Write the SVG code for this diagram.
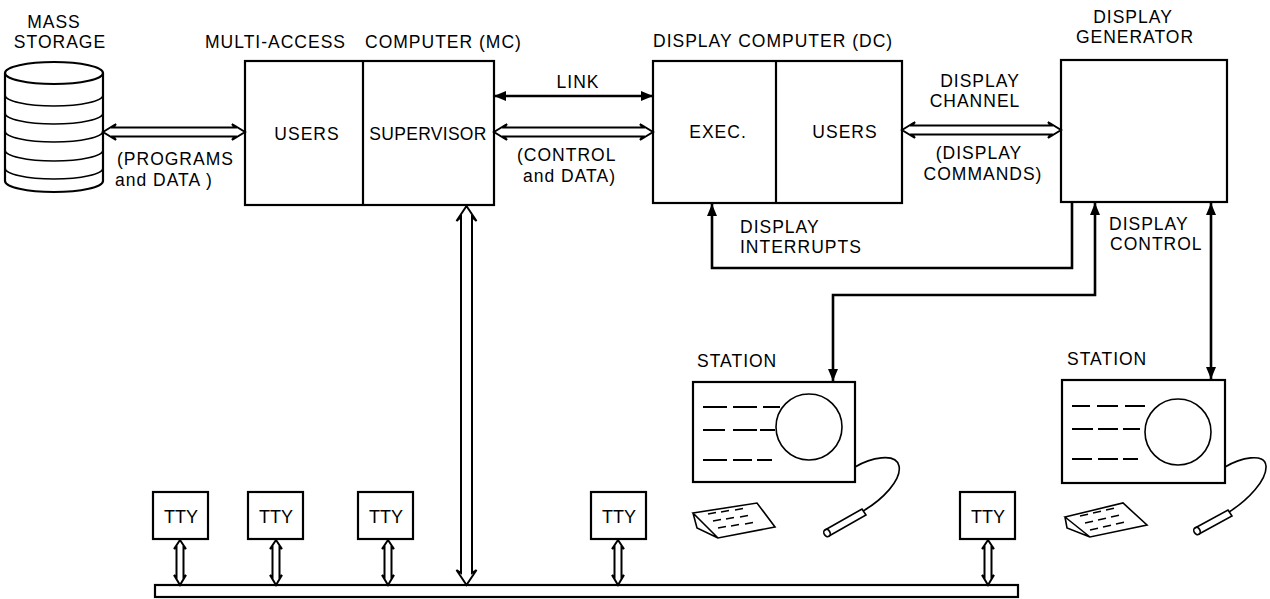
<svg xmlns="http://www.w3.org/2000/svg" width="1270" height="599" viewBox="0 0 1270 599">
  <style>
    text { font-family: "Liberation Sans", Arial, sans-serif; font-size: 17.5px; letter-spacing: 1px; fill: #000; }
    .mid { text-anchor: middle; }
    .tight { letter-spacing: 0.3px; }
    .tty { font-size: 18px; letter-spacing: 0; }
    .box { fill: #fff; stroke: #000; stroke-width: 2.2; }
    .thin { fill: none; stroke: #000; stroke-width: 1.6; }
    .wire { fill: none; stroke: #000; stroke-width: 2.6; }
    .hollow { fill: #fff; stroke: #000; stroke-width: 2; stroke-linejoin: miter; }
    .dash { stroke: #000; stroke-width: 2; }
  </style>
  <defs>
    <marker id="head" viewBox="0 0 12 10" refX="12" refY="5" markerWidth="12" markerHeight="10" markerUnits="userSpaceOnUse" orient="auto-start-reverse">
      <path d="M0,0 L12,5 L0,10 Z" fill="#000"/>
    </marker>
    <!-- short hollow double arrow linking a teletype to the bus -->
    <path id="ttyArrow" class="hollow" d="M0,540 L6,549 L3.5,547 V577 L6,575 L0,585 L-6,575 L-3.5,577 V547 L-6,549 Z"/>
  </defs>

  <!-- mass storage drum -->
  <g id="mass-storage">
    <path class="box" d="M5,73 V181 A49,11 0 0 0 103,181 V73"/>
    <ellipse class="box" cx="54" cy="73" rx="49" ry="11"/>
    <path class="thin" d="M5,95 A49,11 0 0 0 103,95 M5,113 A49,11 0 0 0 103,113 M5,131 A49,11 0 0 0 103,131 M5,150 A49,11 0 0 0 103,150 M5,168 A49,11 0 0 0 103,168"/>
    <text class="mid" x="54" y="28">MASS</text>
    <text class="mid" x="60" y="48">STORAGE</text>
  </g>

  <!-- multi-access computer -->
  <g id="mc">
    <rect class="box" x="245" y="61" width="249" height="144"/>
    <line class="box" x1="363" y1="61" x2="363" y2="205"/>
    <text x="205" y="48">MULTI-ACCESS</text>
    <text x="365" y="48">COMPUTER (MC)</text>
    <text class="mid" x="307" y="140">USERS</text>
    <text class="mid tight" x="428" y="140">SUPERVISOR</text>
  </g>

  <!-- display computer -->
  <g id="dc">
    <rect class="box" x="653" y="61" width="249" height="142"/>
    <line class="box" x1="776" y1="61" x2="776" y2="203"/>
    <text x="653" y="47">DISPLAY COMPUTER (DC)</text>
    <text class="mid" x="718" y="138">EXEC.</text>
    <text class="mid" x="845" y="138">USERS</text>
  </g>

  <!-- display generator -->
  <g id="dg">
    <rect class="box" x="1061" y="60" width="166" height="142"/>
    <text class="mid" x="1133" y="23">DISPLAY</text>
    <text class="mid" x="1135" y="43">GENERATOR</text>
  </g>

  <!-- display stations -->
  <g id="station-1">
    <text x="697" y="367">STATION</text>
    <rect class="box" x="693" y="382" width="162" height="100"/>
    <circle class="thin" cx="809" cy="427" r="33"/>
    <path class="dash" d="M703,407 H727 M733,407 H757 M763,407 H780 M703,430 H725 M733,430 H757 M760,430 H775 M703,460 H727 M733,460 H752 M757,460 H772"/>
    <path class="thin" d="M855,467 C870,458 896,452 899,466 C902,480 882,500 863,511"/>
    <path class="thin" d="M825,530 L862,509 L866,515 L829,536"/>
    <ellipse class="thin" cx="827" cy="533" rx="3" ry="3.8" transform="rotate(-30 827 533)"/>
    <path class="thin" d="M693,513 L757,503 L775,527 L718,538 Z M693,513 L697,528 L718,538"/>
    <path class="dash" style="stroke-width:1.4" d="M708,514 l8,-1.5 M721,512 l8,-1.5 M735,510 l8,-1.5 M713,521 l8,-1.5 M726,519 l8,-1.5 M740,517 l8,-1.5 M718,528 l8,-1.5 M731,526 l8,-1.5 M745,524 l8,-1.5"/>
  </g>

  <g id="station-2">
    <text x="1067" y="365">STATION</text>
    <rect class="box" x="1062" y="380" width="163" height="103"/>
    <circle class="thin" cx="1178" cy="432" r="33"/>
    <path class="dash" d="M1072,406 H1090 M1097,406 H1118 M1125,406 H1145 M1072,429 H1093 M1098,429 H1118 M1123,429 H1140 M1072,459 H1092 M1098,459 H1118 M1123,459 H1138"/>
    <path class="thin" d="M1225,467 C1240,458 1265,452 1266,466 C1267,480 1248,500 1229,512"/>
    <path class="thin" d="M1195,528 L1228,510 L1232,516 L1199,534"/>
    <ellipse class="thin" cx="1197" cy="531" rx="3" ry="3.8" transform="rotate(-30 1197 531)"/>
    <path class="thin" d="M1065,517 L1123,503 L1147,525 L1090,537 Z M1065,517 L1067,528 L1090,537"/>
    <path class="dash" style="stroke-width:1.4" d="M1080,516 l8,-1.8 M1093,513 l8,-1.8 M1106,510 l8,-1.8 M1085,523 l8,-1.8 M1098,520 l8,-1.8 M1111,517 l8,-1.8 M1090,530 l8,-1.8 M1103,527 l8,-1.8 M1116,524 l8,-1.8"/>
  </g>

  <!-- teletypes -->
  <g id="tty-1"><rect class="box" x="153" y="492" width="55" height="47"/><text class="mid tty" x="181" y="523">TTY</text></g>
  <g id="tty-2"><rect class="box" x="248" y="492" width="55" height="47"/><text class="mid tty" x="276" y="523">TTY</text></g>
  <g id="tty-3"><rect class="box" x="358" y="492" width="55" height="47"/><text class="mid tty" x="386" y="523">TTY</text></g>
  <g id="tty-4"><rect class="box" x="591" y="492" width="55" height="47"/><text class="mid tty" x="619" y="523">TTY</text></g>
  <g id="tty-5"><rect class="box" x="960" y="492" width="55" height="47"/><text class="mid tty" x="988" y="523">TTY</text></g>

  <!-- terminal bus -->
  <g id="bus">
    <rect class="box" x="155" y="585" width="863" height="12"/>
  </g>

  <!-- connectors -->
  <g id="connectors">
    <!-- storage <-> MC -->
    <path class="hollow" d="M103,132 L116,124 L113,127.5 H235 L232,124 L245,132 L232,140 L235,136.5 H113 L116,140 Z"/>
    <text x="117" y="165">(PROGRAMS</text>
    <text x="115" y="186">and DATA )</text>

    <!-- MC <-> DC link -->
    <line class="wire" x1="494" y1="96" x2="653" y2="96" marker-start="url(#head)" marker-end="url(#head)"/>
    <text class="mid" x="578" y="88">LINK</text>
    <path class="hollow" d="M494,132 L507,124 L504,127.5 H643 L640,124 L653,132 L640,140 L643,136.5 H504 L507,140 Z"/>
    <text x="517" y="161">(CONTROL</text>
    <text x="523" y="182">and DATA)</text>

    <!-- display channel -->
    <path class="hollow" d="M902,130 L915,122 L912,125.5 H1051 L1048,122 L1061,130 L1048,138 L1051,134.5 H912 L915,138 Z"/>
    <text class="mid" x="980" y="87">DISPLAY</text>
    <text class="mid" x="975" y="107">CHANNEL</text>
    <text class="mid" x="979" y="159">(DISPLAY</text>
    <text class="mid" x="983" y="180">COMMANDS)</text>

    <!-- display interrupts -->
    <path class="wire" d="M1072,202 V268 H712 V204" marker-end="url(#head)"/>
    <text x="740" y="233">DISPLAY</text>
    <text x="740" y="253">INTERRUPTS</text>

    <!-- display control -->
    <path class="wire" d="M833,381 V295 H1095 V203" marker-start="url(#head)" marker-end="url(#head)"/>
    <path class="wire" d="M1211,379 V203" marker-start="url(#head)" marker-end="url(#head)"/>
    <text x="1109" y="230">DISPLAY</text>
    <text x="1110" y="250">CONTROL</text>

    <!-- MC <-> bus -->
    <path class="hollow" d="M466.5,206 L476.5,221 L472,217 V573 L476.5,570 L466.5,585 L456.5,570 L461,573 V217 L456.5,221 Z"/>

    <!-- teletypes <-> bus -->
    <use href="#ttyArrow" x="180"/>
    <use href="#ttyArrow" x="276"/>
    <use href="#ttyArrow" x="388"/>
    <use href="#ttyArrow" x="618"/>
    <use href="#ttyArrow" x="988"/>
  </g>
</svg>
